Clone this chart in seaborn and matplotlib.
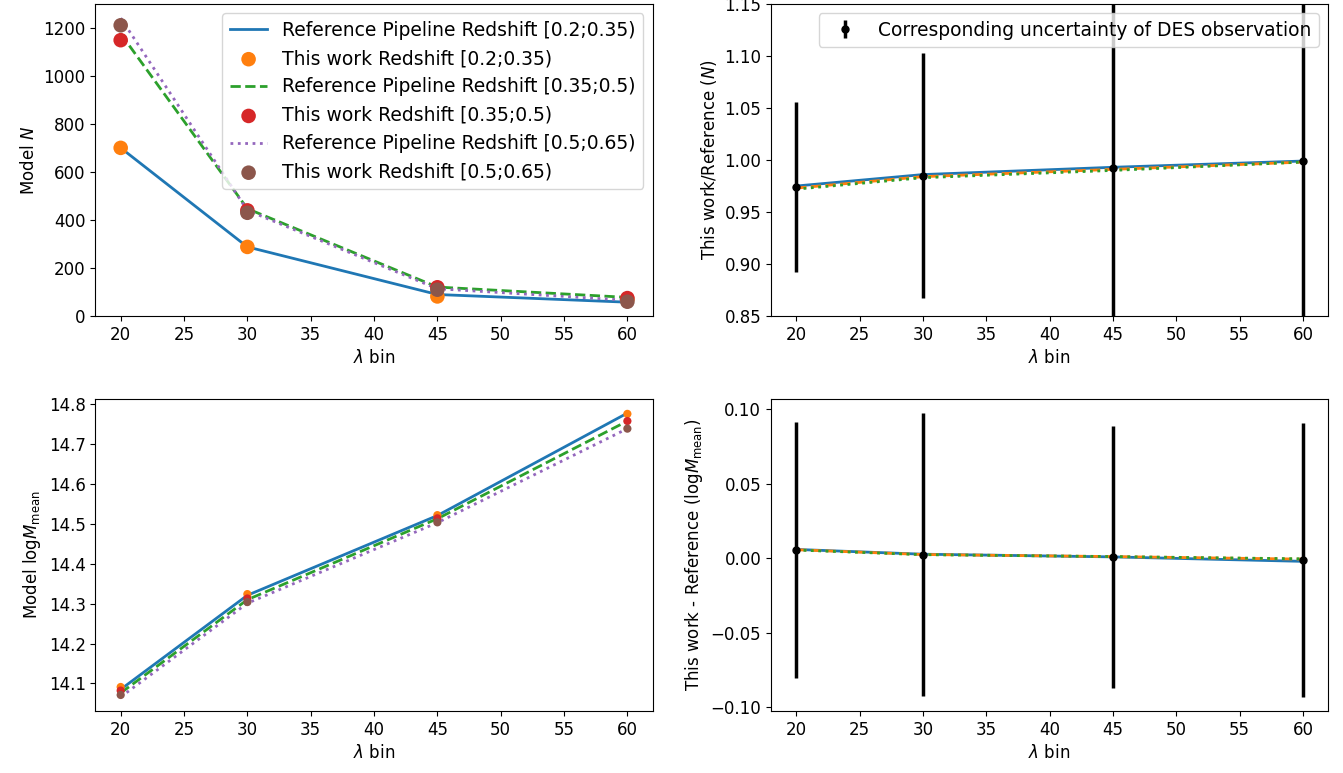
import numpy as np
import matplotlib
matplotlib.use("Agg")
import matplotlib.pyplot as plt
from matplotlib.ticker import MultipleLocator, FuncFormatter
import seaborn as sns

# lambda bins
lam_bins = [20, 30, 45, 60]
z_labels = ["[0.2;0.35)", "[0.35;0.5)", "[0.5;0.65)"]

# number counts N
ref_N_z1 = [700, 288, 90, 58]
ref_N_z2 = [1175, 447, 121, 78]
ref_N_z3 = [1240, 440, 114, 66]
this_N_z1 = [700, 288, 82, 70]
this_N_z2 = [1148, 440, 120, 75]
this_N_z3 = [1210, 430, 110, 60]

# ratio this work / reference (N)
ratio_N_z1 = [0.975, 0.986, 0.993, 0.999]
ratio_N_z2 = [0.973, 0.984, 0.991, 0.998]
ratio_N_z3 = [0.972, 0.983, 0.990, 0.998]
des_ratio_center = [0.974, 0.985, 0.992, 0.999]
des_ratio_err = [0.082, 0.118, 0.20, 0.25]

# log mean mass
ref_M_z1 = [14.085, 14.321, 14.521, 14.778]
ref_M_z2 = [14.076, 14.310, 14.513, 14.758]
ref_M_z3 = [14.066, 14.301, 14.503, 14.739]
this_M_z1 = [14.091, 14.324, 14.522, 14.776]
this_M_z2 = [14.082, 14.313, 14.514, 14.758]
this_M_z3 = [14.071, 14.304, 14.504, 14.739]

# difference this work - reference (log M)
diff_M_z1 = [0.0060, 0.0028, 0.0010, -0.0020]
diff_M_z2 = [0.0058, 0.0026, 0.0012, -0.0005]
diff_M_z3 = [0.0056, 0.0025, 0.0012, -0.0003]
des_diff_center = [0.0056, 0.0025, 0.0010, -0.0010]
des_diff_err = [0.086, 0.095, 0.088, 0.092]

colors = sns.color_palette("tab10")
styles = ["-", "--", ":"]


def two_dec(v, pos):
    v = round(v, 6) + 0.0
    return f"{v:.2f}".replace("-", "\u2212")


fig, axes = plt.subplots(2, 2, figsize=(13.43, 7.73), dpi=100)
fig.subplots_adjust(left=0.071, right=0.989, top=0.995, bottom=0.080,
                    wspace=0.212, hspace=0.265)

# top left: N
ax = axes[0, 0]
refs = [ref_N_z1, ref_N_z2, ref_N_z3]
this = [this_N_z1, this_N_z2, this_N_z3]
for i in range(3):
    sns.lineplot(x=lam_bins, y=refs[i], ax=ax, color=colors[2 * i], linestyle=styles[i],
                 linewidth=2, label=f"Reference Pipeline Redshift {z_labels[i]}")
    sns.scatterplot(x=lam_bins, y=this[i], ax=ax, color=colors[2 * i + 1], s=110,
                    edgecolor="none", zorder=3, label=f"This work Redshift {z_labels[i]}")
ax.set_ylim(bottom=0)
ax.set_xlabel(r"$\lambda$ bin", fontsize=12)
ax.set_ylabel(r"Model $N$", fontsize=12)
ax.legend(loc="upper right", fontsize=13.5)

# top right: ratio N
ax = axes[0, 1]
ratios = [ratio_N_z1, ratio_N_z2, ratio_N_z3]
for i in range(3):
    sns.lineplot(x=lam_bins, y=ratios[i], ax=ax, color=colors[i], linestyle=styles[i],
                 linewidth=2)
ax.errorbar(lam_bins, des_ratio_center, yerr=des_ratio_err, fmt="o", color="k",
            markersize=5, elinewidth=2.5, zorder=4,
            label="Corresponding uncertainty of DES observation")
ax.set_ylim(0.85, 1.15)
ax.set_xlabel(r"$\lambda$ bin", fontsize=12)
ax.set_ylabel(r"This work/Reference ($N$)", fontsize=12)
ax.legend(loc="upper right", fontsize=13.4)

# bottom left: log M
ax = axes[1, 0]
refs = [ref_M_z1, ref_M_z2, ref_M_z3]
this = [this_M_z1, this_M_z2, this_M_z3]
for i in range(3):
    sns.lineplot(x=lam_bins, y=refs[i], ax=ax, color=colors[2 * i], linestyle=styles[i],
                 linewidth=2)
    sns.scatterplot(x=lam_bins, y=this[i], ax=ax, color=colors[2 * i + 1], s=35,
                    edgecolor="none", zorder=3)
ax.set_xlabel(r"$\lambda$ bin", fontsize=12)
ax.set_ylabel(r"Model log$M_{\rm mean}$", fontsize=12)

# bottom right: diff log M
ax = axes[1, 1]
diffs = [diff_M_z1, diff_M_z2, diff_M_z3]
for i in range(3):
    sns.lineplot(x=lam_bins, y=diffs[i], ax=ax, color=colors[i], linestyle=styles[i],
                 linewidth=2)
ax.errorbar(lam_bins, des_diff_center, yerr=des_diff_err, fmt="o", color="k",
            markersize=5, elinewidth=2.5, zorder=4)
ax.yaxis.set_major_locator(MultipleLocator(0.05))
ax.yaxis.set_major_formatter(FuncFormatter(two_dec))
ax.set_xlabel(r"$\lambda$ bin", fontsize=12)
ax.set_ylabel(r"This work - Reference (log$M_{\rm mean}$)", fontsize=12)

for ax in axes.flat:
    ax.tick_params(labelsize=12)

fig.savefig("out.png", dpi=100)
